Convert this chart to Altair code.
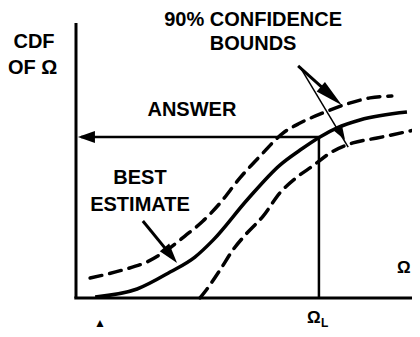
import altair as alt
import pandas as pd

# Curves (x: Omega axis units 0..100, y: CDF units 0..100)
solid_x = [5.7, 18.2, 28.0, 35.4, 40.8, 50.9, 60.7, 66.7, 72.6, 77.7, 84.5, 98.5]
solid_y = [0.4, 3.3, 9.5, 15.0, 21.2, 35.9, 48.7, 54.2, 59.0, 62.3, 65.2, 68.1]
upper_x = [4.2, 14.0, 21.1, 27.1, 32.4, 37.8, 42.9, 48.8, 54.8, 61.6, 66.7, 73.5, 80.7, 87.5, 94.0]
upper_y = [7.3, 10.3, 13.2, 17.6, 22.7, 28.2, 34.8, 44.0, 52.0, 60.4, 64.1, 67.8, 71.1, 73.3, 74.0]
lower_x = [36.9, 39.0, 42.9, 46.7, 50.9, 55.7, 60.7, 65.8, 70.5, 75.6, 82.4, 89.6, 100.6]
lower_y = [0.0, 3.3, 10.3, 17.6, 23.8, 30.0, 38.5, 44.3, 48.4, 53.1, 56.8, 58.6, 61.5]

answer_level = 59.0
omega_L = 72.3

# straight segments: axes, answer lines, arrow shafts
seg_x = [0, -0.5, 1.5, omega_L, 19.9, 66.1, 66.7]
seg_y = [0, 0, answer_level, answer_level, 28.2, 85.0, 84.6]
seg_x2 = [0, 100, omega_L, omega_L, 28.2, 76.3, 81.0]
seg_y2 = [100.7, 0, answer_level, 0, 15.7, 73.8, 55.3]
seg_w = [3, 3, 2.5, 2.5, 3, 3, 1.5]

# arrow heads
head_x = [3.1, 28.2, 76.0, 79.0]
head_y = [answer_level, 15.7, 74.0, 60.1]
head_angle = [180, 51, 41, 59]
head_size = [289, 400, 784, 196]
head_shape = ["M1,0L-1,-0.7L-1,0.7Z", "M1,0L-1,-0.6L-1,0.6Z",
              "M1,0L-1,-0.45L-1,0.45Z", "M1,0L-1,-0.7L-1,0.7Z"]

# labels
lab_text = ["CDF", "OF Ω", "90% CONFIDENCE", "BOUNDS", "ANSWER", "BEST", "ESTIMATE", "Ω", "L", "Ω", "▲"]
lab_x = [-12.5, -12.9, 52.7, 52.7, 34.5, 19.05, 19.05, 70.8, 74.0, 97.6, 7.1]
lab_y = [93.6, 84.1, 102.0, 93.0, 69.0, 44.1, 34.1, -7.3, -9.2, 11.0, -9.0]
lab_size = [20, 20, 20, 20, 20, 20, 20, 17, 12, 17, 12]

X0, X1 = -20.238, 100.0
Y0, Y1 = -11.355, 106.23
xs = alt.Scale(domain=[X0, X1], nice=False, zero=False)
ys = alt.Scale(domain=[Y0, Y1], nice=False, zero=False)

curves = pd.DataFrame(
    [{"c": "solid", "i": i, "x": a, "y": b} for i, (a, b) in enumerate(zip(solid_x, solid_y))]
    + [{"c": "upper", "i": i, "x": a, "y": b} for i, (a, b) in enumerate(zip(upper_x, upper_y))]
    + [{"c": "lower", "i": i, "x": a, "y": b} for i, (a, b) in enumerate(zip(lower_x, lower_y))]
)
segs = pd.DataFrame({"x": seg_x, "y": seg_y, "x2": seg_x2, "y2": seg_y2, "w": seg_w})
heads = pd.DataFrame({"x": head_x, "y": head_y, "a": head_angle, "s": head_size, "sh": head_shape})
labels = pd.DataFrame({"t": lab_text, "x": lab_x, "y": lab_y, "fs": lab_size})

X = lambda: alt.X("x:Q", scale=xs, axis=None)
Y = lambda: alt.Y("y:Q", scale=ys, axis=None)

rules = alt.Chart(segs).mark_rule(color="black", strokeCap="butt").encode(
    x=X(), y=Y(), x2="x2:Q", y2="y2:Q",
    strokeWidth=alt.StrokeWidth("w:Q", scale=None),
)

solid = alt.Chart(curves).transform_filter(alt.datum.c == "solid").mark_line(
    color="black", strokeWidth=3.5, interpolate="monotone", clip=True
).encode(x=X(), y=Y(), order="i:Q")

dashed = alt.Chart(curves).transform_filter(alt.datum.c != "solid").mark_line(
    color="black", strokeWidth=3.5, interpolate="monotone", strokeDash=[12, 8],
    strokeCap="round", clip=True
).encode(x=X(), y=Y(), detail="c:N", order="i:Q")

arrows = alt.Chart(heads).mark_point(filled=True, color="black", opacity=1, strokeWidth=0).encode(
    x=X(), y=Y(),
    angle=alt.Angle("a:Q", scale=None),
    size=alt.Size("s:Q", scale=None),
    shape=alt.Shape("sh:N", scale=None),
)

texts = alt.Chart(labels).mark_text(
    font="Liberation Sans Narrow, Liberation Sans, Arial", fontWeight="bold",
    color="black", align="center", baseline="middle"
).encode(
    x=X(), y=Y(), text="t:N",
    size=alt.Size("fs:Q", scale=None),
)

chart = alt.layer(rules, solid, dashed, arrows, texts).properties(
    width=404, height=321, padding=0, autosize="none", background="white"
).configure_view(stroke=None)

chart.save("out.html", embed_options={"renderer": "svg", "actions": False})
